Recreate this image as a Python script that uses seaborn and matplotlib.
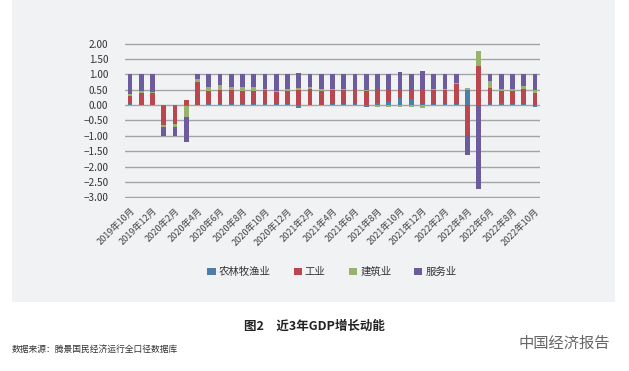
import numpy as np
import pandas as pd
import matplotlib.pyplot as plt
import matplotlib.patches as mpatches
from matplotlib.ticker import FuncFormatter
import seaborn as sns

# monthly contribution to GDP growth (percentage points), Oct 2019 - Oct 2022
months = [f'{y}年{m}月' for y, m in
          [(2019, 10), (2019, 11), (2019, 12)] +
          [(2020, m) for m in range(1, 13)] +
          [(2021, m) for m in range(1, 13)] +
          [(2022, m) for m in range(1, 11)]]

agri = [0.03, 0.02, 0.02, -0.02, -0.02, -0.03, 0.02, 0.03, 0.03, 0.03,
        0.03, 0.03, 0.03, 0.03, 0.03, -0.08, 0.02, 0.02, 0.03, 0.03,
        0.03, -0.06, 0.08, 0.10, 0.22, 0.20, 0.03, 0.03, 0.03, 0.03,
        0.49, 0.02, 0.03, 0.06, 0.05, 0.03, -0.07]
industry = [0.27, 0.38, 0.36, -0.62, -0.60, 0.18, 0.72, 0.42, 0.47, 0.47,
            0.43, 0.44, 0.45, 0.40, 0.44, 0.50, 0.50, 0.45, 0.47, 0.47,
            0.45, 0.47, 0.40, 0.40, 0.32, 0.32, 0.50, 0.47, 0.47, 0.66,
            -0.98, 1.26, 0.52, 0.40, 0.40, 0.50, 0.40]
construction = [0.06, 0.05, 0.06, -0.07, -0.08, -0.35, 0.10, 0.13, 0.17, 0.10,
                0.12, 0.13, 0.04, 0.04, 0.04, 0.05, 0.06, 0.05, 0.02, 0.02,
                0.02, 0.02, -0.06, -0.05, -0.06, -0.06, -0.10, 0.02, 0.02, 0.02,
                0.06, 0.49, 0.22, 0.08, 0.09, 0.08, 0.10]
services = [0.64, 0.55, 0.56, -0.31, -0.32, -0.82, 0.16, 0.42, 0.33, 0.40,
            0.42, 0.40, 0.48, 0.53, 0.49, 0.49, 0.42, 0.48, 0.48, 0.48,
            0.50, 0.51, 0.52, 0.50, 0.53, 0.48, 0.58, 0.48, 0.48, 0.29,
            -0.64, -2.73, 0.23, 0.46, 0.46, 0.39, 0.50]
y_ticks = [-3.0, -2.5, -2.0, -1.5, -1.0, -0.5, 0.0, 0.5, 1.0, 1.5, 2.0]

series = [('农林牧渔业', agri, '#4d7ea8'),
          ('工业', industry, '#b9474d'),
          ('建筑业', construction, '#97b36b'),
          ('服务业', services, '#6c5c9e')]

sns.set_theme(style='white')
plt.rcParams['font.family'] = ['Noto Sans CJK SC', 'DejaVu Sans']
plt.rcParams['axes.unicode_minus'] = True

fig = plt.figure(figsize=(6.29, 3.71), dpi=100)
rect = [125 / 629, 1 - 198 / 371, 415 / 629, 155 / 371]

# grey panel behind the chart, with the gridlines drawn on it
bg = fig.add_axes([12 / 629, 1 - 302 / 371, 603 / 629, 302 / 371], zorder=0)
bg.set_facecolor('#f1f2f4')
bg.set_xticks([])
bg.set_yticks([])
for s in bg.spines.values():
    s.set_visible(False)

grid_ax = fig.add_axes(rect, zorder=1)
grid_ax.set_facecolor('none')
grid_ax.set_ylim(-3.02, 2.02)
grid_ax.set_yticks(y_ticks)
grid_ax.set_xticks([])
grid_ax.yaxis.grid(True, color='#a4a4a4', linewidth=1.0)
grid_ax.tick_params(axis='y', length=0, labelleft=False)
for s in grid_ax.spines.values():
    s.set_visible(False)

ax = fig.add_axes(rect, zorder=2)
ax.set_facecolor('none')

pos_base = np.zeros(len(months))
neg_base = np.zeros(len(months))
for name, vals, color in series:
    vals = np.array(vals)
    base = np.where(vals >= 0, pos_base, neg_base)
    sns.barplot(x=months, y=vals, bottom=base, color=color, width=0.42,
                saturation=1, label=name, ax=ax, linewidth=0)
    pos_base += np.clip(vals, 0, None)
    neg_base += np.clip(vals, None, 0)

ax.set_ylim(-3.02, 2.02)
ax.set_yticks(y_ticks)
ax.yaxis.set_major_formatter(FuncFormatter(lambda v, p: f'{v:.2f}'.replace('-', '\u2212')))
ax.set_xlim(-0.45, len(months) - 0.55)
ax.set_xticks(range(0, len(months), 2))
ax.set_xticklabels(months[::2], rotation=45, ha='right', rotation_mode='anchor')
ax.tick_params(axis='x', labelsize=6.6, colors='#444444', length=0, pad=6)
ax.tick_params(axis='y', labelsize=7.2, colors='#333333', length=0, pad=12)
ax.set_xlabel('')
ax.set_ylabel('')
sns.despine(ax=ax, left=True, bottom=True, top=True, right=True)

ax.legend(loc='center', bbox_to_anchor=(332 / 629, 1 - 272 / 371), bbox_transform=fig.transFigure,
          ncol=4, frameon=False, fontsize=7.5, handlelength=0.8, handleheight=0.8,
          handletextpad=0.3, columnspacing=2.2, labelcolor='#333333')

fig.text(0.5, 1 - 326 / 371, '图2\u3000近3年GDP增长动能', ha='center', va='center',
         fontsize=9, fontweight='bold', color='#222222')
fig.text(12 / 629, 1 - 349 / 371, '数据来源：腾景国民经济运行全口径数据库', ha='left', va='center',
         fontsize=6.3, color='#333333')
fig.text(610 / 629, 1 - 343 / 371, '中国经济报告', ha='right', va='center',
         fontsize=11, color='#666666')

fig.savefig('out.png', dpi=100)
